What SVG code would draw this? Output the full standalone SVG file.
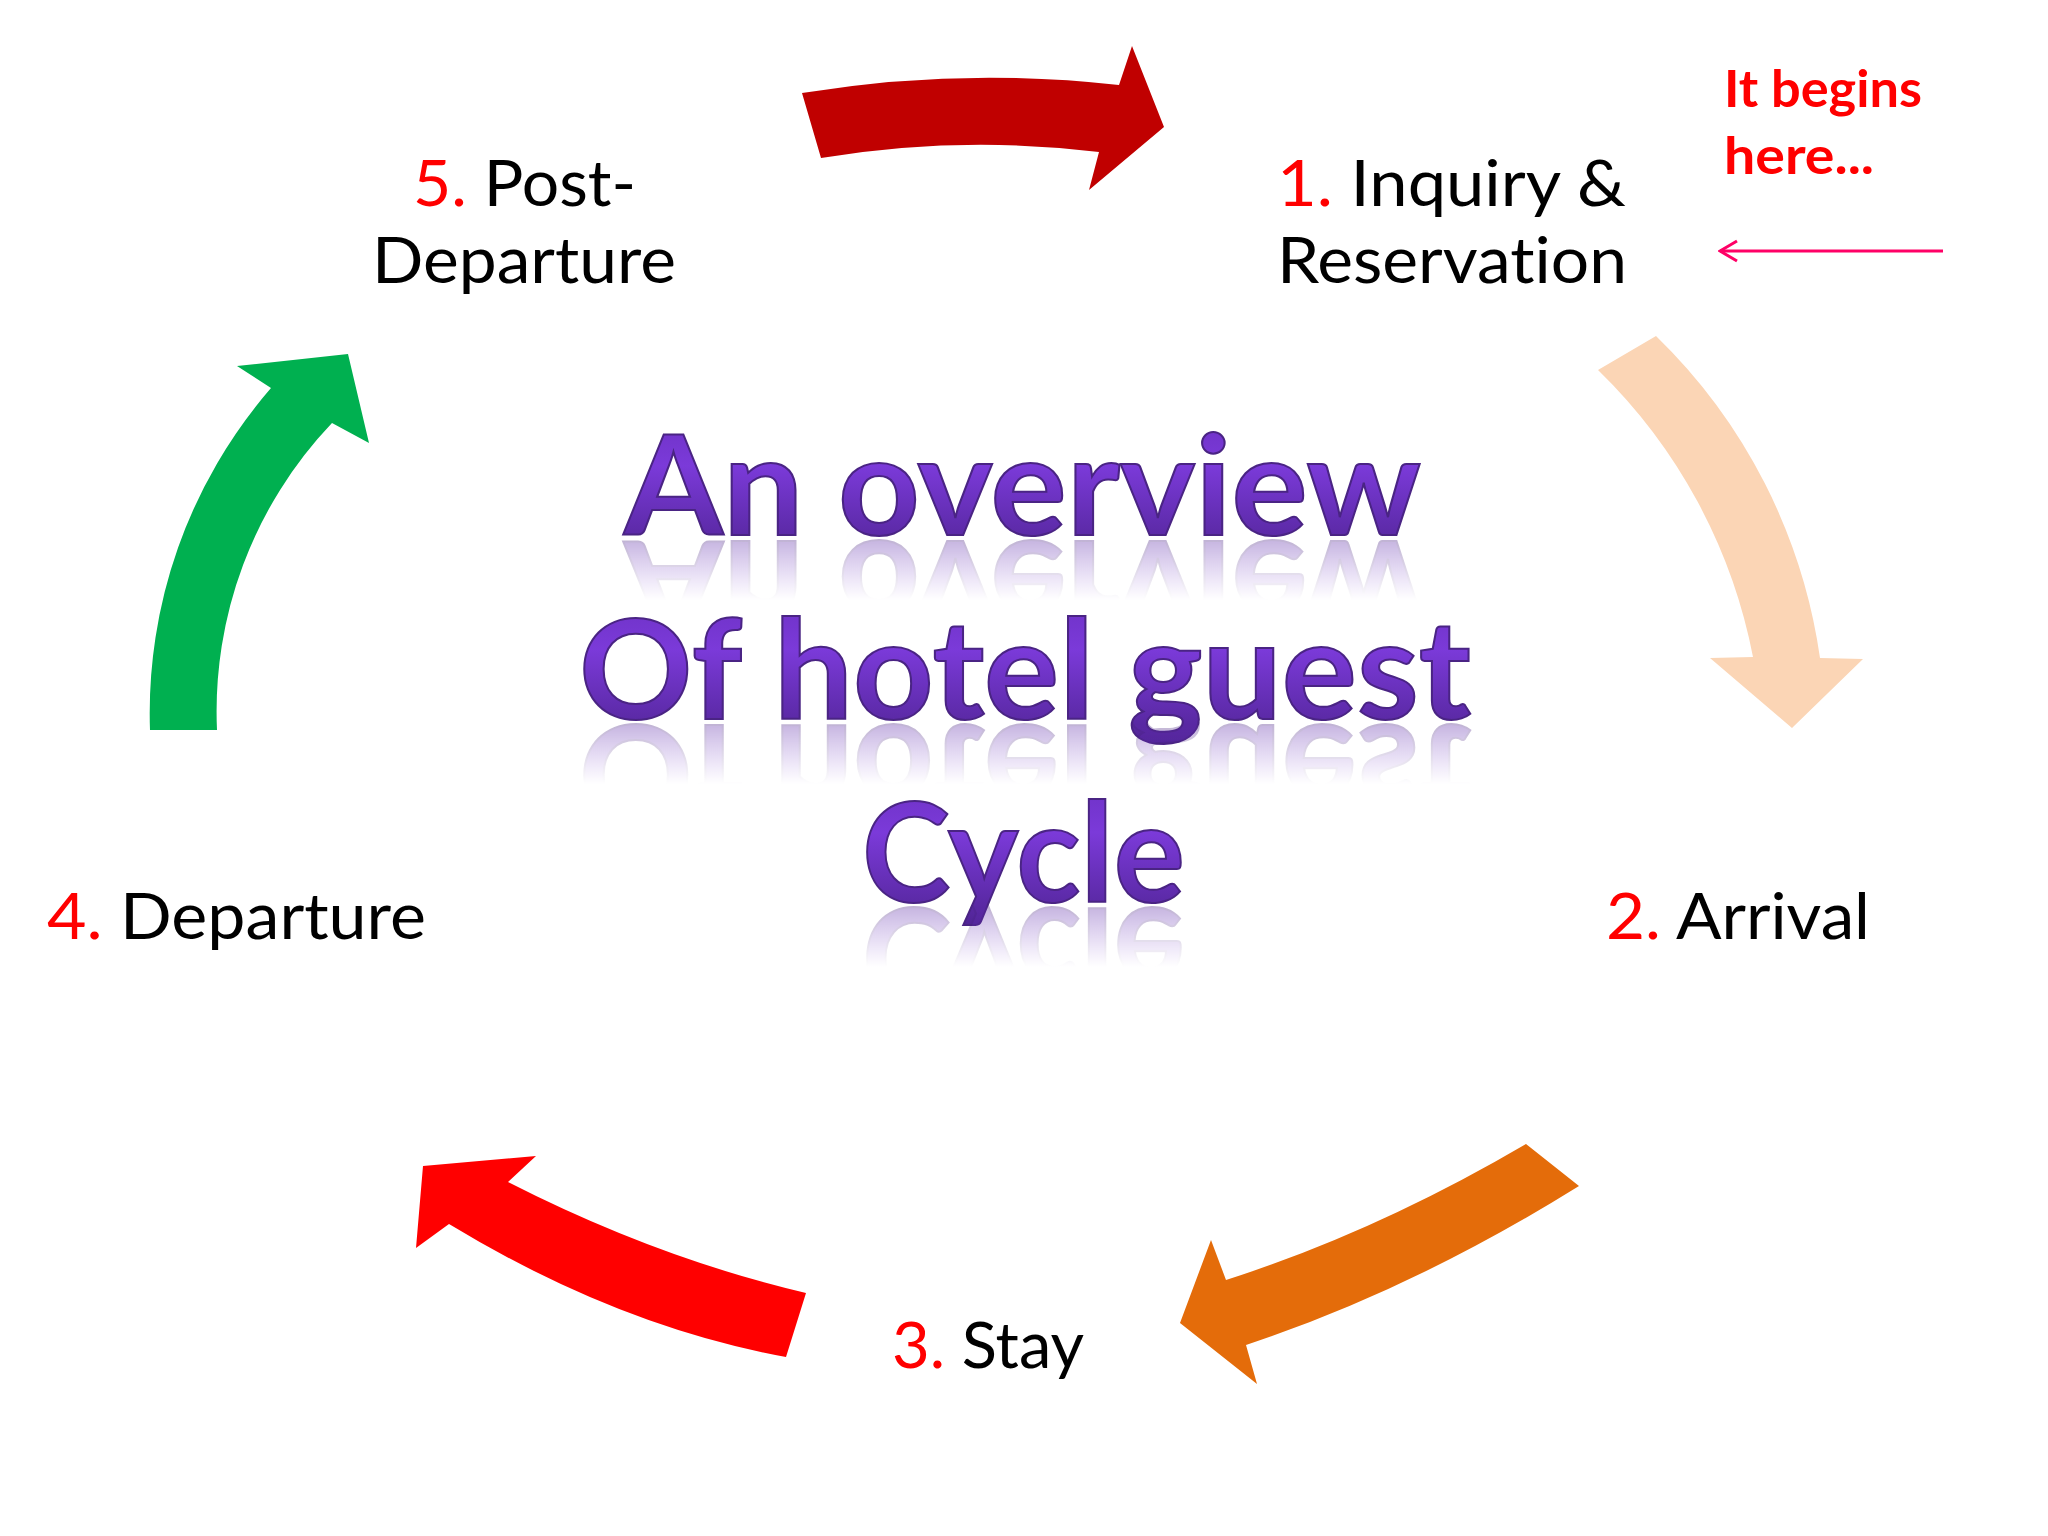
<svg xmlns="http://www.w3.org/2000/svg" xmlns:xlink="http://www.w3.org/1999/xlink" width="2048" height="1536" viewBox="0 0 2048 1536">
  <style>
    text { font-variant-ligatures: none; }
    .lbl { font-family: Lato, "Open Sans", "Liberation Sans", sans-serif; font-size: 64px; fill: #000000; }
    .num { fill: #FF0000; }
    .note { font-family: Lato, "Open Sans", "Liberation Sans", sans-serif; font-size: 51px; font-weight: 700; fill: #FF0000; }
    .title { font-family: Lato, "Open Sans", "Liberation Sans", sans-serif; font-size: 137px; font-weight: 700; fill: url(#purple); stroke: #4a2484; stroke-width: 2; }
  </style>
  <defs>
    <linearGradient id="purple" x1="0" y1="0" x2="0" y2="1">
      <stop offset="0" stop-color="#6a2fbf"/>
      <stop offset="0.4" stop-color="#7b3ad9"/>
      <stop offset="1" stop-color="#4e2391"/>
    </linearGradient>
    <linearGradient id="fadeGrad" x1="0" y1="0" x2="0" y2="1">
      <stop offset="0" stop-color="#ffffff" stop-opacity="0.36"/>
      <stop offset="1" stop-color="#ffffff" stop-opacity="0"/>
    </linearGradient>
    <mask id="m1" maskUnits="userSpaceOnUse" x="0" y="0" width="2048" height="1536">
      <rect x="0" y="538" width="2048" height="62" fill="url(#fadeGrad)"/>
    </mask>
    <mask id="m2" maskUnits="userSpaceOnUse" x="0" y="0" width="2048" height="1536">
      <rect x="0" y="722" width="2048" height="62" fill="url(#fadeGrad)"/>
    </mask>
    <mask id="m3" maskUnits="userSpaceOnUse" x="0" y="0" width="2048" height="1536">
      <rect x="0" y="905" width="2048" height="62" fill="url(#fadeGrad)"/>
    </mask>
    <marker id="chev" viewBox="0 0 20 24" refX="2" refY="12" markerWidth="20" markerHeight="24" markerUnits="userSpaceOnUse" orient="auto">
      <path d="M19,2 L2,12 L19,22" fill="none" stroke="#FF0066" stroke-width="3"/>
    </marker>
  </defs>

  <rect width="2048" height="1536" fill="#ffffff"/>

  <g id="title">
    <text id="t1" class="title" x="624" y="535" textLength="797" lengthAdjust="spacingAndGlyphs">An overview</text>
    <text id="t2" class="title" x="579" y="719" textLength="892" lengthAdjust="spacingAndGlyphs">Of hotel guest</text>
    <text id="t3" class="title" x="862" y="902" textLength="323" lengthAdjust="spacingAndGlyphs">Cycle</text>
    <g mask="url(#m1)"><use xlink:href="#t1" href="#t1" transform="translate(0,1076) scale(1,-1)"/></g>
    <g mask="url(#m2)"><use xlink:href="#t2" href="#t2" transform="translate(0,1444) scale(1,-1)"/></g>
    <g mask="url(#m3)"><use xlink:href="#t3" href="#t3" transform="translate(0,1810) scale(1,-1)"/></g>
  </g>

  <g id="connectors">
    <path id="arrow-5-1" fill="#C00000" d="M802,93 Q960,67 1119,85 L1132,46 L1164,127 L1089,190 L1099,152 Q960,135 821,158 Z"/>
    <path id="arrow-1-2" fill="#FBD5B5" d="M1598,370 L1656,336 A558,558 0 0 1 1820,658 L1863,659 L1792,728 L1710,658 L1753,657 A544,544 0 0 0 1598,370 Z"/>
    <path id="arrow-2-3" fill="#E46C0A" d="M1526,1144 L1579,1186 Q1412,1290 1246,1345 L1257,1384 L1180,1323 L1211,1240 L1226,1280 Q1376,1232 1526,1144 Z"/>
    <path id="arrow-3-4" fill="#FF0000" d="M806,1293 L786,1357 Q617,1326 449,1224 L416,1248 L423,1166 L536,1156 L508,1182 Q657,1258 806,1293 Z"/>
    <path id="arrow-4-5" fill="#00B050" d="M150,730 A496,496 0 0 1 271,388 L237,366 L348,354 L369,443 L332,423 A418,418 0 0 0 217,730 Z"/>
    <line id="pointer" x1="1720" y1="251" x2="1943" y2="251" stroke="#FF0066" stroke-width="3" marker-start="url(#chev)"/>
  </g>

  <g id="node-1">
    <text class="lbl" x="1277" y="206" textLength="349" lengthAdjust="spacingAndGlyphs"><tspan class="num">1.</tspan> Inquiry &amp;</text>
    <text class="lbl" x="1277" y="283" textLength="350" lengthAdjust="spacingAndGlyphs">Reservation</text>
  </g>
  <g id="node-2">
    <text class="lbl" x="1606" y="939" textLength="264" lengthAdjust="spacingAndGlyphs"><tspan class="num">2.</tspan> Arrival</text>
  </g>
  <g id="node-3">
    <text class="lbl" x="892" y="1368" textLength="192" lengthAdjust="spacingAndGlyphs"><tspan class="num">3.</tspan> Stay</text>
  </g>
  <g id="node-4">
    <text class="lbl" x="47" y="939" textLength="379" lengthAdjust="spacingAndGlyphs"><tspan class="num">4.</tspan> Departure</text>
  </g>
  <g id="node-5">
    <text class="lbl" x="413" y="206" textLength="223" lengthAdjust="spacingAndGlyphs"><tspan class="num">5.</tspan> Post-</text>
    <text class="lbl" x="372" y="283" textLength="304" lengthAdjust="spacingAndGlyphs">Departure</text>
  </g>
  <g id="note">
    <text class="note" x="1724" y="107" textLength="198" lengthAdjust="spacingAndGlyphs">It begins</text>
    <text class="note" x="1724" y="174" textLength="150" lengthAdjust="spacingAndGlyphs">here...</text>
  </g>
</svg>
